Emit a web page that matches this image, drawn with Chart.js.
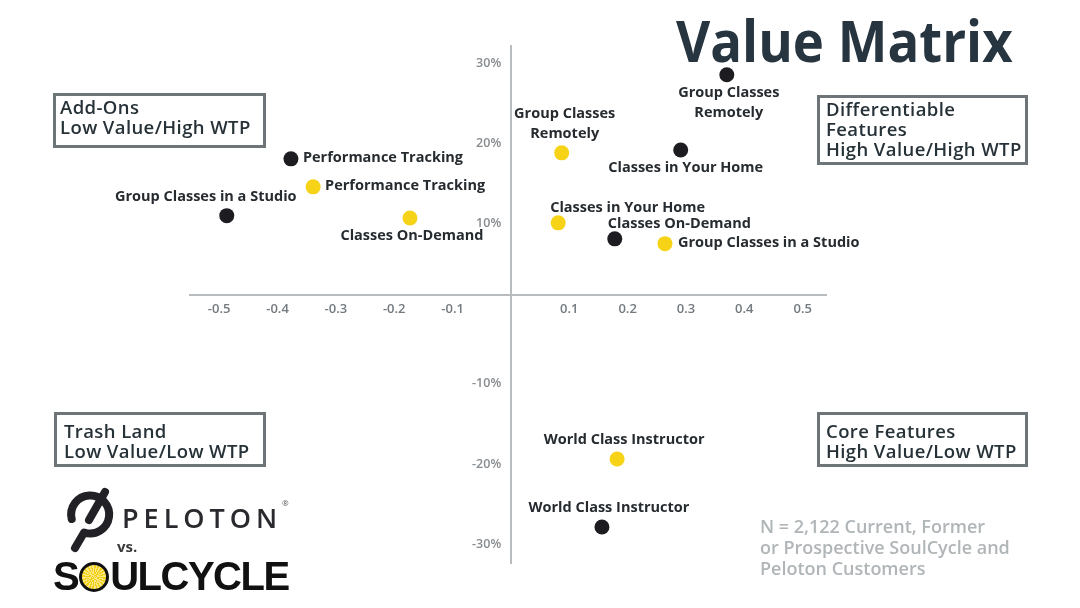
<!DOCTYPE html>
<html>
<head>
<meta charset="utf-8">
<title>Value Matrix</title>
<script src="https://cdn.jsdelivr.net/npm/chart.js@4.4.1/dist/chart.umd.min.js"></script>
<style>
  html, body { margin: 0; padding: 0; background: #fff; }
  #wrap { position: relative; width: 1080px; height: 608px; overflow: hidden; font-family: "Open Sans", sans-serif; }
  #matrix { position: absolute; left: 0; top: 0; }
  .title { position: absolute; left: 676px; top: 1px; font-size: 57px; font-weight: 700; color: #263540; white-space: nowrap;
           transform: scaleX(0.925); transform-origin: left top; }
  .box { position: absolute; box-sizing: border-box; border: 3px solid #6e7579;
         font-size: 18.5px; font-weight: 600; line-height: 20px; letter-spacing: 0.4px; color: #263238; white-space: nowrap; }
  .note { position: absolute; left: 760px; top: 516px; font-size: 18px; font-weight: 600; line-height: 21px; color: #b0b5b8; }
  .peloton { position: absolute; left: 122px; top: 499px; font-size: 27px; font-weight: 600; letter-spacing: 5px; color: #2a2a2e; }
  .reg { position: absolute; left: 282px; top: 497px; font-size: 8px; color: #555; }
  .vs { position: absolute; left: 117px; top: 536px; font-size: 15px; font-weight: 700; color: #3a3a3a; }
  .soul { position: absolute; left: 53px; top: 554px; font-family: "Liberation Sans", Arial, sans-serif; font-size: 40px;
          font-weight: 700; letter-spacing: -1.5px; color: #111; white-space: nowrap; }
  .sun { display: inline-block; width: 24px; height: 24px; border: 3px solid #111; border-radius: 50%; vertical-align: -2px;
         margin: 0 1px; background: repeating-conic-gradient(#f5cf12 0deg 9deg, #fbe988 9deg 18deg); }
</style>
</head>
<body>
<div id="wrap">
  <canvas id="matrix" width="1080" height="608"></canvas>
  <div class="title">Value Matrix</div>
  <div class="box" style="left:53px;top:93px;width:213px;height:55px;padding-top:1px;padding-left:4px;">Add-Ons<br>Low Value/High WTP</div>
  <div class="box" style="left:817px;top:95px;width:211px;height:70px;padding-top:1px;padding-left:6px;">Differentiable<br>Features<br>High Value/High WTP</div>
  <div class="box" style="left:54px;top:412px;width:212px;height:55px;padding-top:6px;padding-left:7px;">Trash Land<br>Low Value/Low WTP</div>
  <div class="box" style="left:817px;top:412px;width:211px;height:55px;padding-top:6px;padding-left:6px;">Core Features<br>High Value/Low WTP</div>
  <div class="note">N = 2,122 Current, Former<br>or Prospective SoulCycle and<br>Peloton Customers</div>

  <svg style="position:absolute;left:60px;top:484px;" width="60" height="72" viewBox="0 0 60 72">
    <path d="M11.7 35 A19 19 0 1 1 24.1 48.5 L15 64" fill="none" stroke="#222226" stroke-width="8" stroke-linecap="round" stroke-linejoin="round"/>
    <line x1="45" y1="8" x2="29" y2="36" stroke="#222226" stroke-width="8" stroke-linecap="round"/>
  </svg>
  <div class="peloton">PELOTON</div>
  <div class="reg">®</div>
  <div class="vs">vs.</div>
  <div class="soul">S<span class="sun"></span>ULCYCLE</div>
</div>

<script>
// features, in the same order for both brands
const features = [
  'Group Classes\nRemotely',
  'Classes in Your Home',
  'Performance Tracking',
  'Group Classes in a Studio',
  'Classes On-Demand',
  'World Class Instructor'
];

// Peloton (black) : x = value, y = willingness to pay
const pelotonX = [0.370, 0.291, -0.377, -0.487, 0.178, 0.156];
const pelotonY = [0.275, 0.181, 0.170, 0.099, 0.070, -0.290];

// SoulCycle (yellow)
const soulX = [0.087, 0.081, -0.339, 0.264, -0.173, 0.182];
const soulY = [0.1775, 0.090, 0.135, 0.064, 0.096, -0.205];

const xTicks = [-0.5, -0.4, -0.3, -0.2, -0.1, 0.1, 0.2, 0.3, 0.4, 0.5];
const xTickLabels = ['-0.5', '-0.4', '-0.3', '-0.2', '-0.1', '0.1', '0.2', '0.3', '0.4', '0.5'];
const yTicks = [-0.3, -0.2, -0.1, 0.1, 0.2, 0.3];
const yTickLabels = ['-30%', '-20%', '-10%', '10%', '20%', '30%'];

// where each point's name sits
const pelotonLabelAt = [
  { side: 'below', dx: 2 },
  { side: 'below', dx: 5 },
  { side: 'right', dx: 12 },
  { side: 'above', dx: -21 },
  { side: 'aboveRight', dx: -7 },
  { side: 'above', dx: 7 }
];
const soulLabelAt = [
  { side: 'above', dx: 3 },
  { side: 'aboveRight', dx: -8 },
  { side: 'right', dx: 12 },
  { side: 'right', dx: 13 },
  { side: 'below', dx: 2 },
  { side: 'above', dx: 7 }
];

function toPoints(xs, ys) {
  return xs.map((x, i) => ({ x: x, y: ys[i] }));
}

const pointNames = {
  id: 'pointNames',
  afterDatasetsDraw(chart) {
    const ctx = chart.ctx;
    ctx.save();
    ctx.font = '700 14.5px "Open Sans"';
    ctx.fillStyle = '#262b30';
    ctx.textBaseline = 'middle';
    chart.data.datasets.forEach((ds, di) => {
      const meta = chart.getDatasetMeta(di);
      meta.data.forEach((pt, i) => {
        const place = ds.labelAt[i];
        const lines = features[i].split('\n');
        let x = pt.x + place.dx;
        let y;
        if (place.side === 'right') {
          ctx.textAlign = 'left';
          y = pt.y - 1;
        } else if (place.side === 'aboveRight') {
          ctx.textAlign = 'left';
          y = pt.y - 15;
        } else if (place.side === 'below') {
          ctx.textAlign = 'center';
          y = pt.y + 18;
        } else {
          ctx.textAlign = 'center';
          y = pt.y - 19 - (lines.length - 1) * 20;
        }
        lines.forEach((line, k) => ctx.fillText(line, x, y + k * 20));
      });
    });
    ctx.restore();
  }
};

new Chart(document.getElementById('matrix'), {
  type: 'scatter',
  data: {
    datasets: [
      {
        label: 'SoulCycle',
        data: toPoints(soulX, soulY),
        backgroundColor: '#f6d316',
        borderWidth: 0,
        pointRadius: 7.5,
        labelAt: soulLabelAt
      },
      {
        label: 'Peloton',
        data: toPoints(pelotonX, pelotonY),
        backgroundColor: '#1d1d21',
        borderWidth: 0,
        pointRadius: 7.5,
        labelAt: pelotonLabelAt
      }
    ]
  },
  options: {
    responsive: false,
    animation: false,
    devicePixelRatio: 1,
    layout: { padding: { left: 190, right: 254, top: 46, bottom: 45 } },
    plugins: { legend: { display: false }, tooltip: { enabled: false } },
    scales: {
      x: {
        type: 'linear',
        min: -0.55,
        max: 0.54,
        position: { y: 0 },
        grid: { display: false, drawTicks: false },
        border: { display: true, color: '#b9bcbf', width: 2 },
        afterBuildTicks: (scale) => { scale.ticks = xTicks.map(v => ({ value: v })); },
        ticks: {
          padding: 7,
          color: '#737a7f',
          font: { family: 'Open Sans', size: 13, weight: '600' },
          maxRotation: 0,
          autoSkip: false,
          callback: (v, i) => xTickLabels[i]
        }
      },
      y: {
        type: 'linear',
        min: -0.335,
        max: 0.311,
        position: { x: 0 },
        grid: { display: false, drawTicks: false },
        border: { display: true, color: '#b9bcbf', width: 2 },
        afterBuildTicks: (scale) => { scale.ticks = yTicks.map(v => ({ value: v })); },
        ticks: {
          labelOffset: 9,
          color: '#868b8f',
          font: { family: 'Open Sans', size: 12.5, weight: '600' },
          autoSkip: false,
          // centred axes ignore tick padding, so pad the text itself
          callback: (v, i) => yTickLabels[i] + '   '
        }
      }
    }
  },
  plugins: [pointNames]
});
</script>
</body>
</html>
